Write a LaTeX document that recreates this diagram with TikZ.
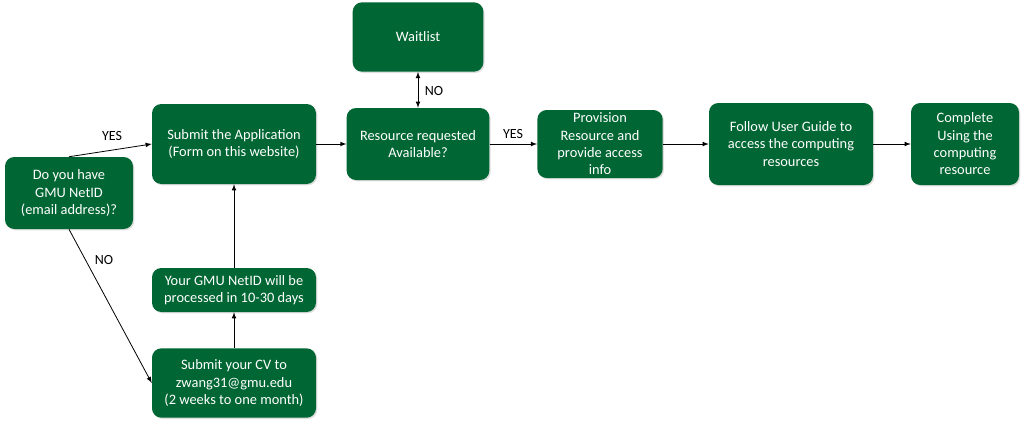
\documentclass[tikz,border=0pt]{standalone}
\usepackage{fontspec}
\setmainfont{Carlito}
\usetikzlibrary{shadows}
\definecolor{gmugreen}{RGB}{0,102,51}

\begin{document}
\begin{tikzpicture}[x=0.75pt,y=-0.75pt,
        box/.style={fill=gmugreen, rounded corners=7pt, text=white, align=center,
            font=\fontsize{10.8}{13}\selectfont, inner sep=2pt,
            drop shadow={opacity=0.25, shadow xshift=1pt, shadow yshift=-1pt}},
        lbl/.style={font=\fontsize{10.5}{12.8}\selectfont},
        arr/.style={-latex, line width=0.6pt}]
        \useasboundingbox (0,0) rectangle (1024,425);

        % Question box
        \node[box, minimum width=96pt, minimum height=54pt] (netq) at (69,193) {Do you have\\GMU NetID\\(email address)?};

        % Left column
        \node[box, minimum width=123pt, minimum height=60pt] (apply) at (234,144) {Submit the Application\\(Form on this website)};
        \node[box, minimum width=123pt, minimum height=33pt] (wait30) at (234,290) {Your GMU NetID will be\\processed in 10-30 days};
        \node[box, minimum width=123pt, minimum height=52pt] (sendcv) at (234,383) {Submit your CV to\\zwang31@gmu.edu\\(2 weeks to one month)};

        % Middle
        \node[box, minimum width=98pt, minimum height=52pt] (waitlist) at (418,37) {Waitlist};
        \node[box, minimum width=107pt, minimum height=54pt] (avail) at (418,144) {Resource requested\\Available?};

        % Right row
        \node[box, minimum width=94pt, minimum height=51pt] (provision) at (600,144) {Provision\\Resource and\\provide access\\info};
        \node[box, minimum width=123pt, minimum height=61.5pt] (guide) at (791,144) {Follow User Guide to\\access the computing\\resources};
        \node[box, minimum width=81pt, minimum height=61.5pt] (done) at (965,144) {Complete\\Using the\\computing\\resource};

        % Arrows
        \draw[arr] (netq.north) -- (apply.west);
        \node[lbl] (yes1) at (112,136) {YES};
        \draw[arr] (netq.south) -- (sendcv.west);
        \node[lbl] (no1) at (104,260) {NO};
        \draw[arr] (sendcv.north) -- (wait30.south);
        \draw[arr] (wait30.north) -- (apply.south);
        \draw[arr] (apply.east) -- (avail.west);
        \draw[latex-latex, line width=0.6pt] (waitlist.south) -- (avail.north);
        \node[lbl] (no2) at (434,91) {NO};
        \draw[arr] (avail.east) -- (provision.west);
        \node[lbl] (yes2) at (513,134) {YES};
        \draw[arr] (provision.east) -- (guide.west);
        \draw[arr] (guide.east) -- (done.west);
    \end{tikzpicture}
\end{document}
